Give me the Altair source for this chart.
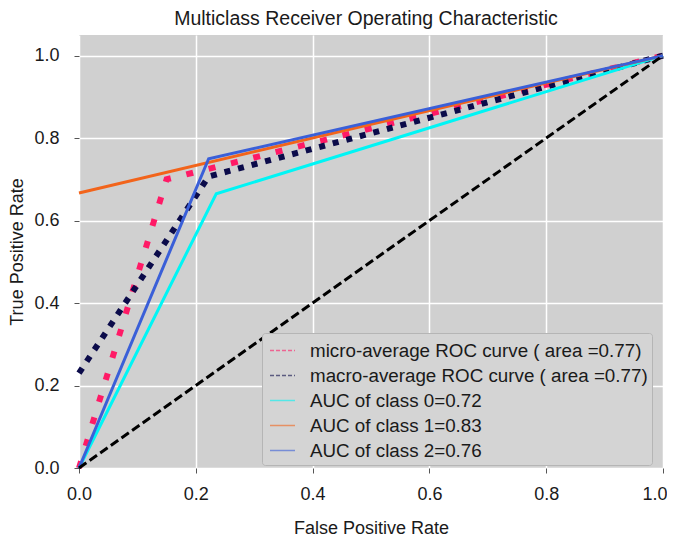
import altair as alt
import pandas as pd

# ---- data ----
micro_name = "micro-average ROC curve ( area =0.77)"
macro_name = "macro-average ROC curve ( area =0.77)"
c0_name = "AUC of class 0=0.72"
c1_name = "AUC of class 1=0.83"
c2_name = "AUC of class 2=0.76"

micro_fpr = [0.0, 0.15, 1.0]
micro_tpr = [0.0, 0.70, 1.0]
macro_fpr = [0.0, 0.222, 1.0]
macro_tpr = [0.23, 0.707, 1.0]
c0_fpr = [0.0, 0.235, 1.0]
c0_tpr = [0.0, 0.665, 1.0]
c1_fpr = [0.0, 1.0]
c1_tpr = [0.667, 1.0]
c2_fpr = [0.0, 0.222, 1.0]
c2_tpr = [0.0, 0.75, 1.0]
diag_fpr = [0.0, 1.0]
diag_tpr = [0.0, 1.0]

series_names = [micro_name, macro_name, c0_name, c1_name, c2_name]
series_colors = ["#ff1a66", "#0b0b4a", "#00f5f5", "#f2641b", "#3a5fd8"]
legend_dashes = [[4, 2], [4, 2], [1, 0], [1, 0], [1, 0]]


def frame(name, xs, ys):
    return pd.DataFrame({"series": name, "fpr": xs, "tpr": ys, "order": list(range(len(xs)))})


df_micro = frame(micro_name, micro_fpr, micro_tpr)
df_macro = frame(macro_name, macro_fpr, macro_tpr)
df_solid = pd.concat([
    frame(c0_name, c0_fpr, c0_tpr),
    frame(c1_name, c1_fpr, c1_tpr),
    frame(c2_name, c2_fpr, c2_tpr),
])
df_all = pd.concat([df_micro, df_macro, df_solid])
df_diag = frame("diag", diag_fpr, diag_tpr)

FONT = "Liberation Sans"

x_enc = alt.X("fpr:Q", title="False Positive Rate",
              scale=alt.Scale(domain=[0, 1], nice=False, zero=False),
              axis=alt.Axis(values=[0, 0.2, 0.4, 0.6, 0.8, 1.0], format=".1f",
                            labelAlign={"condition": {"test": "datum.value >= 1", "value": "right"},
                                        "value": "center"},
                            labelOffset={"condition": {"test": "datum.value >= 1", "value": 4},
                                         "value": 0}))
y_enc = alt.Y("tpr:Q", title="True Positive Rate",
              scale=alt.Scale(domain=[0, 1.05], nice=False, zero=False),
              axis=alt.Axis(values=[0, 0.2, 0.4, 0.6, 0.8, 1.0], format=".1f"))

legend_spec = alt.Legend(
    title=None,
    orient="none",
    legendX=183,
    legendY=298,
    fillColor="#d4d4d4",
    strokeColor="#b5b5b5",
    cornerRadius=3,
    padding=4,
    labelFontSize=18.8,
    labelFont=FONT,
    labelColor="#1a1a1a",
    labelLimit=500,
    labelOffset=14,
    symbolType="stroke",
    symbolSize=625,
    symbolStrokeWidth=1.5,
    symbolOpacity=0.6,
    symbolOffset=3,
    rowPadding=1,
)

color_scale = alt.Scale(domain=series_names, range=series_colors)
color_plain = alt.Color("series:N", scale=color_scale, sort=series_names, legend=None)

legend_layer = alt.Chart(df_all).mark_line(opacity=0, strokeWidth=1.5).encode(
    x=x_enc, y=y_enc,
    color=alt.Color("series:N", scale=color_scale, sort=series_names, legend=legend_spec),
    strokeDash=alt.StrokeDash("series:N", sort=series_names,
                              scale=alt.Scale(domain=series_names, range=legend_dashes),
                              legend=legend_spec),
    order="order:Q",
)

micro = alt.Chart(df_micro).mark_line(strokeWidth=6, strokeDash=[7, 16], strokeCap="butt").encode(
    x=x_enc, y=y_enc, color=color_plain, order="order:Q")
macro = alt.Chart(df_macro).mark_line(strokeWidth=6, strokeDash=[6, 8], strokeCap="butt").encode(
    x=x_enc, y=y_enc, color=color_plain, order="order:Q")
solid = alt.Chart(df_solid).mark_line(strokeWidth=3).encode(
    x=x_enc, y=y_enc, color=color_plain, order="order:Q", detail="series:N")
diag = alt.Chart(df_diag).mark_line(strokeWidth=3, strokeDash=[9, 4], color="black", strokeCap="butt").encode(
    x=x_enc, y=y_enc, order="order:Q")

chart = alt.layer(legend_layer, micro, macro, solid, diag).properties(
    width=584,
    height=433,
    title=alt.TitleParams(
        "Multiclass Receiver Operating Characteristic",
        fontSize=19.5, fontWeight="normal", font=FONT, color="#1a1a1a",
        anchor="middle", baseline="alphabetic", offset=-9, dx=-5,
    ),
    autosize=alt.AutoSizeParams(type="none"),
    padding={"left": 71, "top": 27, "right": 4, "bottom": 68},
).configure_view(
    fill="#d0d0d0", stroke=None
).configure_axis(
    grid=True, gridColor="white", gridWidth=1.5,
    domain=False,
    tickColor="#555555", tickSize=5, tickWidth=1,
    labelFont=FONT, labelFontSize=18, labelColor="#1a1a1a",
    titleFont=FONT, titleFontSize=18, titleFontWeight="normal", titleColor="#1a1a1a",
).configure_axisX(
    labelPadding=12, titlePadding=16,
).configure_axisY(
    labelPadding=15, titlePadding=7,
)

chart.save("out.html", embed_options={"renderer": "svg", "actions": False})
